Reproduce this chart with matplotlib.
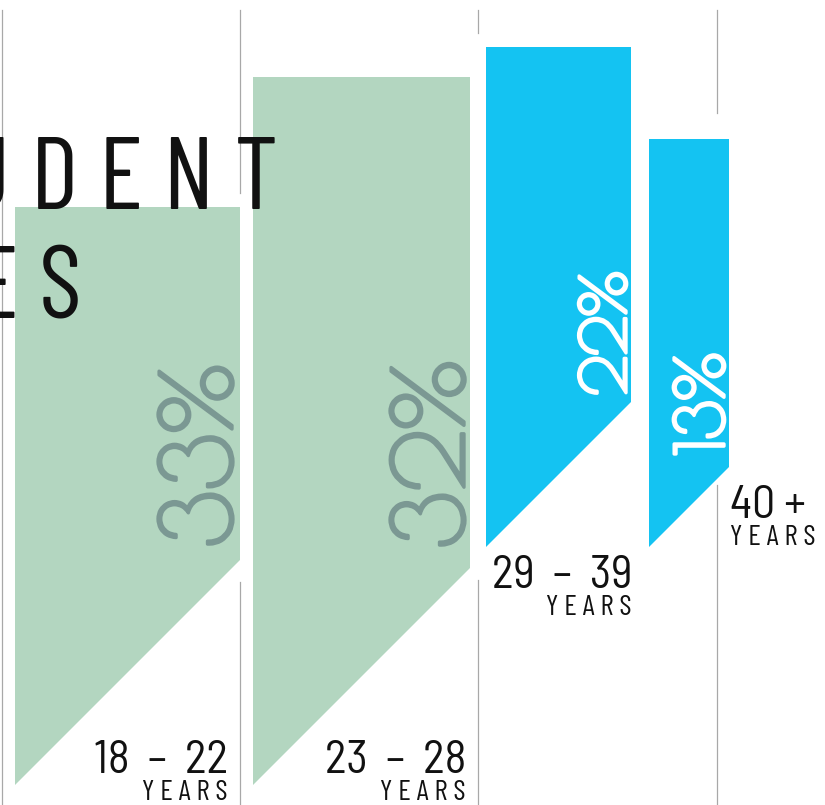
import matplotlib
matplotlib.use('Agg')
import matplotlib.pyplot as plt
import matplotlib.patheffects as pe
from matplotlib.patches import Polygon

# data
ages = ['18  –  22', '23  –  28', '29  –  39', '40 +']
shares = [33, 32, 22, 13]

# pennant geometry (pixels, y down) - infographic layout, not to scale
bar_left = [15, 253, 486, 649]
bar_right = [240, 470, 631, 729]
bar_top = [207, 77, 47, 139]
bar_tip = [785, 785, 547, 547]
bar_color = ['#b3d6c0', '#b3d6c0', '#14c3f2', '#14c3f2']
pct_color = ['#7b9893', '#7b9893', 'white', 'white']
pct_size = [70, 70, 45, 48]
pct_pad = [8, 6, 5, 5]
pct_lift = [13, 20, 7, 12]

label_x = [228, 466, 632, 730]
label_y = [773, 773, 588, 518]
label_ha = ['right', 'right', 'right', 'left']

# guide lines and where they are broken by the pennants
grid_x = [2, 240, 478, 717]
grid_gap = [None, (193, 582), (33, 580), (113, 485)]

TITLE_FONT = 'Barlow Condensed'
LABEL_FONT = 'Barlow Semi Condensed'
PCT_FONT = 'Poiret One'

fig = plt.figure(figsize=(8.25, 8.05), dpi=100)
ax = fig.add_axes([0, 0, 1, 1])
ax.set_xlim(0, 825)
ax.set_ylim(805, 0)
ax.axis('off')

for gx, gap in zip(grid_x, grid_gap):
    if gap is None:
        ax.plot([gx, gx], [10, 805], color='#a8a8a8', lw=0.9, zorder=1)
    else:
        ax.plot([gx, gx], [10, gap[0]], color='#a8a8a8', lw=0.9, zorder=1)
        ax.plot([gx, gx], [gap[1], 805], color='#a8a8a8', lw=0.9, zorder=1)

for i, v in enumerate(shares):
    l, r, t, tip = bar_left[i], bar_right[i], bar_top[i], bar_tip[i]
    cut = tip - (r - l)  # 45 degree cut
    ax.add_patch(Polygon([(l, t), (r, t), (r, cut), (l, tip)], closed=True,
                         facecolor=bar_color[i], edgecolor='none', zorder=2))
    ax.text(r - pct_pad[i], cut - pct_lift[i], f'{v}%', rotation=90, rotation_mode='anchor',
            ha='left', va='baseline', fontsize=pct_size[i], family=PCT_FONT,
            color=pct_color[i], zorder=3,
            path_effects=[pe.withStroke(linewidth=2.4, foreground=pct_color[i])])
    ax.text(label_x[i], label_y[i], ages[i], ha=label_ha[i], va='baseline',
            fontsize=33, family=LABEL_FONT, color='#111111', zorder=4)
    ax.text(label_x[i], label_y[i] + 27, 'Y E A R S', ha=label_ha[i], va='baseline',
            fontsize=21, family=TITLE_FONT, color='#111111', zorder=4)

# title, cropped at the left edge like the source
ax.text(278, 208, 'S T U D E N T', ha='right', va='baseline', fontsize=74,
        family=TITLE_FONT, color='#111111', zorder=5)
ax.text(82, 317, 'A G E S', ha='right', va='baseline', fontsize=74,
        family=TITLE_FONT, color='#111111', zorder=5)

fig.savefig('out.png', dpi=100)
